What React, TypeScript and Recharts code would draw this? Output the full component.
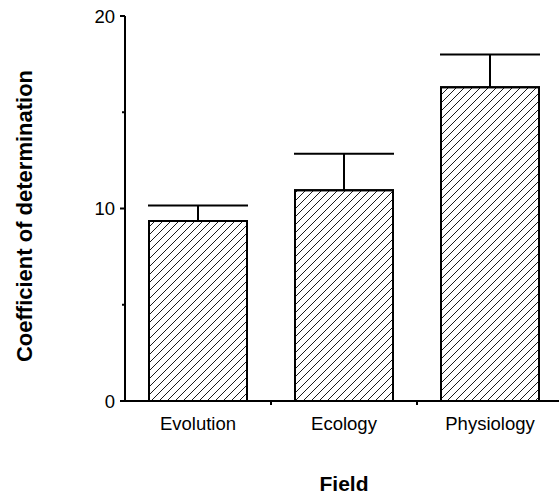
import React from "react";
import { BarChart, Bar, XAxis, YAxis, ErrorBar } from "recharts";

const categories = ["Evolution", "Ecology", "Physiology"];
const means = [9.35, 10.95, 16.3];
const errors = [0.8, 1.9, 1.7];
const yTicks = [0, 5, 10, 15, 20];

const data = categories.map((c, i) => ({ field: c, value: means[i], err: [0, errors[i]] }));

const CHART_W = 563;
const CHART_H = 495;
const YAXIS_W = 125;
const XAXIS_H = 94;
const TOP = 16;
const BAND = (CHART_W - YAXIS_W) / categories.length;
const FONT = "'Liberation Sans', Arial, Helvetica, sans-serif";

const YTick = (props: any) => {
  const { x, y, payload } = props;
  const major = payload.value % 10 === 0;
  const axisX = x + 10;
  return (
    <g>
      <line x1={axisX - (major ? 5 : 3)} x2={axisX} y1={y} y2={y} stroke="#000" strokeWidth={2} />
      {major && (
        <text x={x} y={y} textAnchor="end" dominantBaseline="central" fontSize={18.5} fontFamily={FONT} fill="#000">
          {payload.value}
        </text>
      )}
    </g>
  );
};

const XTick = (props: any) => {
  const { x, y, payload, index } = props;
  const axisY = y - 16;
  return (
    <g>
      <text x={x} y={y} dy="0.71em" textAnchor="middle" fontSize={18.5} fontFamily={FONT} fill="#000">
        {payload.value}
      </text>
      {index > 0 && (
        <line x1={x - BAND / 2} x2={x - BAND / 2} y1={axisY} y2={axisY + 4} stroke="#000" strokeWidth={2} />
      )}
    </g>
  );
};

const YLabel = () => (
  <text
    x={32}
    y={216}
    transform="rotate(-90 32 216)"
    textAnchor="middle"
    fontSize={22}
    fontWeight="bold"
    fontFamily={FONT}
    fill="#000"
  >
    Coefficient of determination
  </text>
);

const XLabel = () => (
  <text x={344} y={491} textAnchor="middle" fontSize={21} fontWeight="bold" fontFamily={FONT} fill="#000">
    Field
  </text>
);

export default function App() {
  return (
    <div style={{ position: "absolute", left: 0, top: 0, width: 559, height: 495, overflow: "hidden", background: "#fff" }}>
      <BarChart
        width={CHART_W}
        height={CHART_H}
        data={data}
        margin={{ top: TOP, right: 0, bottom: 0, left: 0 }}
        barCategoryGap={24}
      >
        <defs>
          <pattern id="hatch" patternUnits="userSpaceOnUse" width={8} height={8}>
            <path d="M0,8 L8,0 M-2,2 L2,-2 M6,10 L10,6" stroke="#000" strokeWidth={0.9} />
          </pattern>
        </defs>
        <XAxis
          dataKey="field"
          height={XAXIS_H}
          axisLine={{ stroke: "#000", strokeWidth: 2 }}
          tickLine={false}
          tickSize={4}
          tickMargin={12}
          tick={<XTick />}
          interval={0}
          label={<XLabel />}
        />
        <YAxis
          width={YAXIS_W}
          domain={[0, 20]}
          ticks={yTicks}
          type="number"
          allowDataOverflow
          axisLine={{ stroke: "#000", strokeWidth: 2 }}
          tickLine={false}
          tickSize={5}
          tickMargin={5}
          tick={<YTick />}
          interval={0}
          label={<YLabel />}
        />
        <Bar dataKey="value" fill="url(#hatch)" stroke="#000" strokeWidth={2} isAnimationActive={false}>
          <ErrorBar dataKey="err" direction="y" width={50} stroke="#000" strokeWidth={2} isAnimationActive={false} />
        </Bar>
      </BarChart>
    </div>
  );
}
